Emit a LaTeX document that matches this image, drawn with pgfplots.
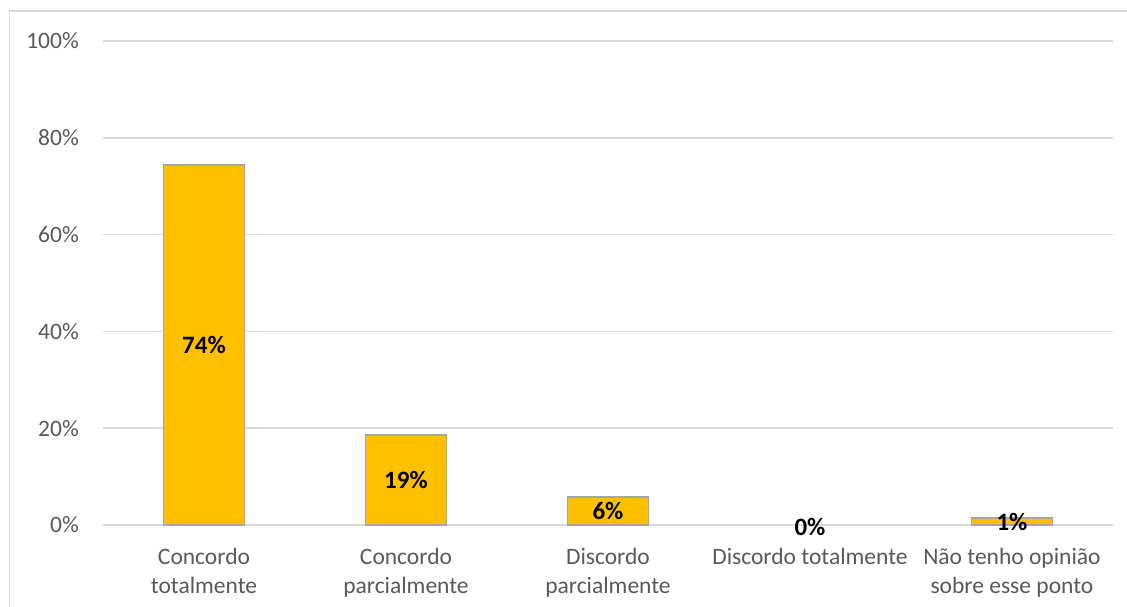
\documentclass[border=0pt]{standalone}
\usepackage{pgfplots}
\pgfplotsset{compat=1.18}
\usepackage{fontspec}
\setmainfont{Carlito}
\definecolor{baryellow}{HTML}{FFC000}
\definecolor{barborder}{HTML}{A5A5A5}
\definecolor{gridgray}{HTML}{D9D9D9}
\definecolor{labgray}{HTML}{595959}
\begin{document}
\begin{tikzpicture}[x=1bp,y=1bp]
\useasboundingbox (0,0) rectangle (1127,607);
\draw[gridgray, line width=1.5bp] (9.5,-5) -- (9.5,596) -- (1140,596);
\begin{axis}[
  at={(103bp,82bp)}, anchor=south west,
  scale only axis, width=1010bp, height=484bp,
  xmin=-0.5, xmax=4.5, ymin=0, ymax=100,
  clip=false,
  axis line style={draw=none},
  major tick length=0pt,
  ytick={0,20,...,100},
  yticklabel={\pgfmathprintnumber{\tick}\%},
  /pgf/number format/assume math mode=true,
  ymajorgrids, grid style={gridgray, line width=1.5bp},
  xtick={0,...,4},
  xticklabels={{Concordo\\totalmente}, {Concordo\\parcialmente}, {Discordo\\parcialmente}, {Discordo totalmente}, {Não tenho opinião\\sobre esse ponto}},
  xticklabel style={align=center, font=\fontsize{23.5bp}{29.5bp}\selectfont, text=labgray, inner sep=0pt, anchor=north, yshift=-22.5bp},
  yticklabel style={font=\fontsize{23.5bp}{28bp}\selectfont, text=labgray, inner sep=0pt, anchor=east, xshift=-24bp},
]
\addplot[ybar, bar width=81bp, fill=baryellow, draw=barborder, line width=1.6bp]
  coordinates {(0,74.4) (1,18.6) (2,5.8) (4,1.4)};
\addplot[draw=none, mark=none, point meta=explicit symbolic,
  nodes near coords={\pgfplotspointmeta\%},
  nodes near coords style={anchor=center, inner sep=0pt, font=\bfseries\fontsize{25bp}{30bp}\selectfont, text=black}]
  coordinates {(0,37.2) [74] (1,9.3) [19] (2,2.9) [6] (3,-0.4) [0] (4,0.7) [1]};
\end{axis}
\end{tikzpicture}
\end{document}
